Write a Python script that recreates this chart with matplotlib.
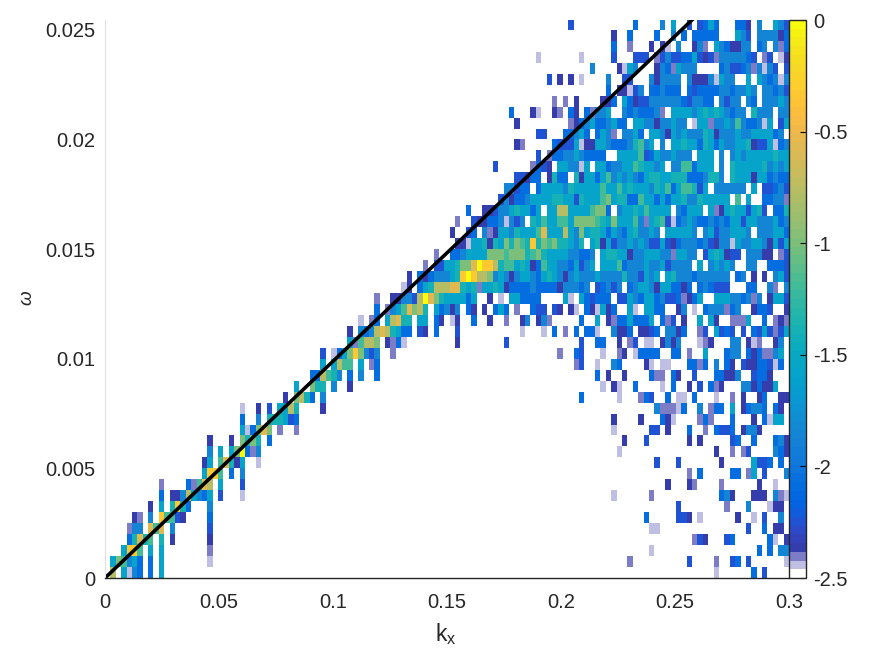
import numpy as np
import matplotlib
matplotlib.use("Agg")
import matplotlib.pyplot as plt
from matplotlib.colors import ListedColormap

plt.rcParams['font.family'] = ['Liberation Sans', 'DejaVu Sans']

# Colour classes: letter -> log10 amplitude
CODES = "abcdefghijklmn"
CODE_VALUES = [-2.44, -2.40, -2.36, -2.25, -2.10, -1.85, -1.60, -1.40, -1.20, -1.00, -0.75, -0.55, -0.35, -0.03]

N_COLS = 127
N_ROWS = 51
K_MAX = 0.3
W_STEP = 0.0005

# Each row: (first column, letters); '.' is an empty cell
ROW_50 = [(86,"d"),(98,"e"),(103,"f.g..d.dege"),(117,"eec.f..gfd")]
ROW_49 = [(94,"c..e"),(102,"e..f.e.eeeee"),(117,"gfd.ffffce")]
ROW_48 = [(94,"e..b...c.ca.f..cfb.gfeccff.ef.fbe")]
ROW_47 = [(80,"a"),(88,"a"),(94,"d...ddd.bdfddeegdcdbfffffed.bd.ac")]
ROW_46 = [(90,"f....cagf...cfebgfff....efddefbfafd.d")]
ROW_45 = [(82,"d.c.c.a....f..dd...fcffff.fcccfagff..g.gfefaf")]
ROW_44 = [(93,"e.ccadf.eefeee.edeeeeffeffgf.ffefd")]
ROW_43 = [(83,"b.b.c....cce.gecddffffffedffee.fdff.fe.fffgf")]
ROW_42 = [(75,"e...ca..cb.ec.ebffg..fefeeefb.ggggfghghgfeff.hfff.ff")]
ROW_41 = [(76,"c"),(86,"bcefgeefgee.ggffcffgff.aggbffgfifeefag.dg")]
ROW_40 = [(80,"dd...eefge.egfb.ffge.ggfcgfgfffhgcfffgffggggef.")]
ROW_39 = [(76,"cb.....edddgaccggfeeefhifg.f.gghggehgegffgghcddgaef")]
ROW_38 = [(80,"d.beeffgfeeee..ggggidegffgfff.ggg.f.fgfggggghgg")]
ROW_37 = [(72,"d......bedc.ggffag.ggeffggihggfg.ffiieggg.f.hggggghfgfg")]
ROW_36 = [(76,"ddcee.chee.hcggegi"),(94,"fgfgfeghhgghhheeefhhf.hgggcggefee")]
ROW_35 = [(74,"ffdee.eggggfhgggggig"),(94,"gighgggfhgiegiihdg.ffffff.g.ddefd")]
ROW_34 = [(73,"dfceefgggghhggdhgggij"),(94,"ghheeiggegegghffhggggg.i.g..eeffb")]
ROW_33 = [(67,"e..ccdffghggeg.ggkkggggijje."),(95,"fgghgigggg.feggg.gbcghggdghd.eeh")]
ROW_32 = [(65,"b..dcceefafdf.hgiggiigjjjjihgj"),(95,"gggifbghidaefgfeefefeggdggfffgef")]
ROW_31 = [(64,"c..de.fbcggfhgggilgggkgfjghhgeg"),(95,"feghffgf.gggggf.fgdffgggf.fffgge")]
ROW_30 = [(65,"ccagghchgjhjihmhjijhhgfh.ghcgd"),(95,"ffgfgfddgdcefffefdcffagffggfcgdg")]
ROW_29 = [(61,"b..eefggggjjjijjjhijhggggffeef.ghh"),(95,"ggcffgggffbggff.dghgcdd.fffcc.bd")]
ROW_28 = [(59,"b.ddgghjjlnmmkhiighgceiggffegdfg.ggg"),(95,"iefffgffgdffff.g.fgfgf..ff..eeed")]
ROW_27 = [(56,"c.ecefffghmnmkkjfgfcfggfeghgfcfgfffgfffe"),(95,"fhffdgfg.ghfffeffffff.ef.c.c.fgd")]
ROW_26 = [(55,"ac.eghkkkllhghbgghgceeeefeeeecfffef.defd"),(95,"f.efggfcggeece.efeddd...ee..fb.f")]
ROW_25 = [(50,"b..ccffdknljhggggeg..c.a.ggeeee....ga.gedeee."),(95,"ddgfeggefddebceg..gggffefbf.cggd")]
ROW_24 = [(50,"e.bfgiljkh.gefcf.ec.c.ege.b..edd.dc.ca.ecagce"),(95,"..ga.ggee..cf.a.efffbef..ceed..c")]
ROW_23 = [(47,"a.be.gklhh.gg.ec.ac..e..c..b..cf.cfb.....e..g.cb"),(95,"eegeeeg.ebd.c..g.gc..bbbg..e.bcb")]
ROW_22 = [(45,"c.fefklkhgee.dc.e...d"),(77,"a...a.e.b.e.eea..f"),(95,"cce.ccde.ffce..bd.gded.d.edgdbdg")]
ROW_21 = [(45,"gbikkj.cbea"),(65,"c"),(74,"d"),(88,"d..ee.."),(95,"c.bd.aa.cfcf...abc...ff.cab..cf.")]
ROW_20 = [(40,"d.aegjmjfdf..b"),(84,"b..ed...a.."),(95,"bc.aeeee..ee.b..g...eff.ecebbfg.")]
ROW_19 = [(40,"g.gkii.g.be"),(87,"bd..a..f"),(95,"e....ca.aa...eebe.f.ec.dcceedae.")]
ROW_18 = [(38,"eekihf.e.f..e"),(91,"e.c."),(95,".c....ebb.ec..d...eeccf..deec...")]
ROW_17 = [(35,"g..jhh.f..c"),(92,"a.c"),(95,"a..e....a.e..c.d.ebc...ffceccg..")]
ROW_16 = [(33,"c.jkhe.f"),(88,"e"),(95,"a...bed..e.aa.e...a..b.c..ce..cc")]
ROW_15 = [(25,"a..c.d.ggkh....c"),(102,"fbbbae..f.bee.g.ceffe.ec.")]
ROW_14 = [(25,"e..f.hhhgde"),(94,"c"),(99,"c...eca....beb...e...c.eagg.")]
ROW_13 = [(25,"gaejlj.b..b"),(94,"a"),(101,"dd.c...e..b.edde.cffc")]
ROW_12 = [(19,"c...c.jhjh.e"),(96,"c...d"),(108,"c.c"),(116,"de..e...efc")]
ROW_11 = [(19,"f.g.gjnebf"),(95,"a"),(113,"c..b.bd....fec")]
ROW_10 = [(18,"cg.ilhcg..a"),(102,"d...d"),(114,"c"),(120,"gdde.e.")]
ROW_09 = [(18,"gmmi.e.f"),(108,"b.e"),(116,"ee.bg.d...f")]
ROW_08 = [(10,"b....ebilk.g...d"),(104,"c...cb"),(114,"b"),(121,"c..a..")]
ROW_07 = [(10,"e.ccfkgfeg.d...a"),(94,"a"),(101,"b"),(114,"efc...ccc.fba")]
ROW_06 = [(8,"c.g.hmhe...f"),(106,"d"),(115,"b...f...acc.")]
ROW_05 = [(5,"cb.f.miidc....e"),(100,"e"),(106,"ddc.a"),(117,"c..a.d..f.")]
ROW_04 = [(4,"bff.lil.f"),(19,"d"),(101,"aa"),(119,"d..e.cc.")]
ROW_03 = [(4,"ehlhi.h.c"),(19,"c"),(109,"bdc...de"),(123,"ea.c")]
ROW_02 = [(3,"gmmi.g.g"),(19,"b"),(101,"a"),(121,"e.e.ff")]
ROW_01 = [(1,"gjifge.e.g"),(19,"a"),(97,"b"),(108,"d"),(113,"b..de.d"),(126,"a")]
ROW_00 = [(1,"k.gafe.e.g"),(113,"a"),(120,"e.d")]

ROWS = [ROW_00, ROW_01, ROW_02, ROW_03, ROW_04, ROW_05, ROW_06, ROW_07, ROW_08, ROW_09,
        ROW_10, ROW_11, ROW_12, ROW_13, ROW_14, ROW_15, ROW_16, ROW_17, ROW_18, ROW_19,
        ROW_20, ROW_21, ROW_22, ROW_23, ROW_24, ROW_25, ROW_26, ROW_27, ROW_28, ROW_29,
        ROW_30, ROW_31, ROW_32, ROW_33, ROW_34, ROW_35, ROW_36, ROW_37, ROW_38, ROW_39,
        ROW_40, ROW_41, ROW_42, ROW_43, ROW_44, ROW_45, ROW_46, ROW_47, ROW_48, ROW_49, ROW_50]

LINE_K = [0.0, 0.263]
LINE_W = [0.0, 0.026]

X_TICKS = [0, 0.05, 0.1, 0.15, 0.2, 0.25, 0.3]
X_LABELS = ["0", "0.05", "0.1", "0.15", "0.2", "0.25", "0.3"]
Y_TICKS = [0, 0.005, 0.01, 0.015, 0.02, 0.025]
Y_LABELS = ["0", "0.005", "0.01", "0.015", "0.02", "0.025"]
C_TICKS = [0, -0.5, -1, -1.5, -2, -2.5]
C_LABELS = ["0", "-0.5", "-1", "-1.5", "-2", "-2.5"]

PARULA = [
(0.2081,0.1663,0.5292),(0.2116,0.1898,0.5777),(0.2123,0.2138,0.6270),(0.2081,0.2386,0.6771),
(0.1959,0.2645,0.7279),(0.1707,0.2919,0.7792),(0.1253,0.3242,0.8303),(0.0591,0.3598,0.8683),
(0.0117,0.3875,0.8820),(0.0060,0.4086,0.8828),(0.0165,0.4266,0.8786),(0.0329,0.4430,0.8720),
(0.0498,0.4586,0.8641),(0.0629,0.4737,0.8554),(0.0723,0.4887,0.8467),(0.0779,0.5040,0.8384),
(0.0793,0.5200,0.8312),(0.0749,0.5375,0.8263),(0.0641,0.5570,0.8240),(0.0488,0.5772,0.8228),
(0.0343,0.5966,0.8199),(0.0265,0.6137,0.8135),(0.0239,0.6287,0.8038),(0.0231,0.6418,0.7913),
(0.0228,0.6535,0.7768),(0.0267,0.6642,0.7607),(0.0384,0.6743,0.7436),(0.0590,0.6838,0.7254),
(0.0843,0.6928,0.7062),(0.1133,0.7015,0.6859),(0.1453,0.7098,0.6646),(0.1801,0.7177,0.6424),
(0.2178,0.7250,0.6193),(0.2586,0.7317,0.5954),(0.3022,0.7376,0.5712),(0.3482,0.7424,0.5473),
(0.3953,0.7459,0.5244),(0.4420,0.7481,0.5033),(0.4871,0.7491,0.4840),(0.5300,0.7491,0.4661),
(0.5709,0.7485,0.4494),(0.6099,0.7473,0.4337),(0.6473,0.7456,0.4188),(0.6834,0.7435,0.4044),
(0.7184,0.7411,0.3905),(0.7525,0.7384,0.3768),(0.7858,0.7356,0.3633),(0.8185,0.7327,0.3498),
(0.8507,0.7299,0.3360),(0.8824,0.7274,0.3217),(0.9139,0.7258,0.3063),(0.9450,0.7261,0.2886),
(0.9739,0.7314,0.2666),(0.9938,0.7455,0.2403),(0.9990,0.7653,0.2164),(0.9955,0.7861,0.1967),
(0.9880,0.8066,0.1794),(0.9789,0.8271,0.1633),(0.9697,0.8481,0.1475),(0.9626,0.8705,0.1309),
(0.9589,0.8949,0.1132),(0.9598,0.9218,0.0948),(0.9661,0.9514,0.0755),(0.9763,0.9831,0.0538)]

colors = list(PARULA)
colors[0] = (1, 1, 1)
colors[1] = (0.75, 0.75, 0.89)
colors[2] = (0.49, 0.49, 0.78)
cmap = ListedColormap(colors)
cmap.set_bad((1, 1, 1))

value_of = dict(zip(CODES, CODE_VALUES))
grid = np.full((N_ROWS, N_COLS), np.nan)
for r, row in enumerate(ROWS):
    for start, letters in row:
        for i, ch in enumerate(letters):
            if ch != "." and start + i < N_COLS:
                grid[r, start + i] = value_of[ch]

k_edges = np.linspace(0, K_MAX, N_COLS + 1)
w_edges = np.arange(N_ROWS + 1) * W_STEP

W, H = 875, 656
fig = plt.figure(figsize=(W / 100, H / 100), dpi=100)
ax = fig.add_axes([105 / W, 1 - 578 / H, 684 / W, 558 / H])
cax = fig.add_axes([789 / W, 1 - 578 / H, 17 / W, 558 / H])

mesh = ax.pcolormesh(k_edges, w_edges, np.ma.masked_invalid(grid), cmap=cmap, vmin=-2.5, vmax=0, linewidth=0)
ax.plot(LINE_K, LINE_W, color="black", lw=2.6, solid_capstyle="butt")
ax.set_xlim(0, K_MAX)
ax.set_ylim(0, 0.02545)
ax.set_xticks(X_TICKS, X_LABELS)
ax.set_yticks(Y_TICKS, Y_LABELS)
ax.tick_params(axis="x", labelsize=14.5, length=0, colors="#262626", pad=11)
ax.tick_params(axis="y", labelsize=14.5, length=0, colors="#262626", pad=7)
for side in ("top", "right"):
    ax.spines[side].set_visible(False)
ax.spines["left"].set_color("#e2e2e2")
ax.spines["left"].set_linewidth(0.8)
ax.spines["bottom"].set_color("#262626")
ax.spines["bottom"].set_linewidth(1.0)
ax.set_axisbelow(False)

fig.text(446 / W, 1 - 634 / H, r"k$_{\mathregular{x}}$", fontsize=16.5, color="#262626", ha="center", va="center")
fig.text(27 / W, 1 - 298 / H, "\u03c9", fontsize=13.5, color="#262626", rotation=90, ha="center", va="center", style="italic")

cb = fig.colorbar(mesh, cax=cax)
cb.set_ticks(C_TICKS, labels=C_LABELS)
cax.tick_params(axis="y", direction="in", right=True, length=4, width=0.8, labelsize=14.5, labelcolor="#262626", pad=5)
cb.outline.set_edgecolor("#262626")
cb.outline.set_linewidth(1.0)

fig.savefig("out.png", dpi=100)
